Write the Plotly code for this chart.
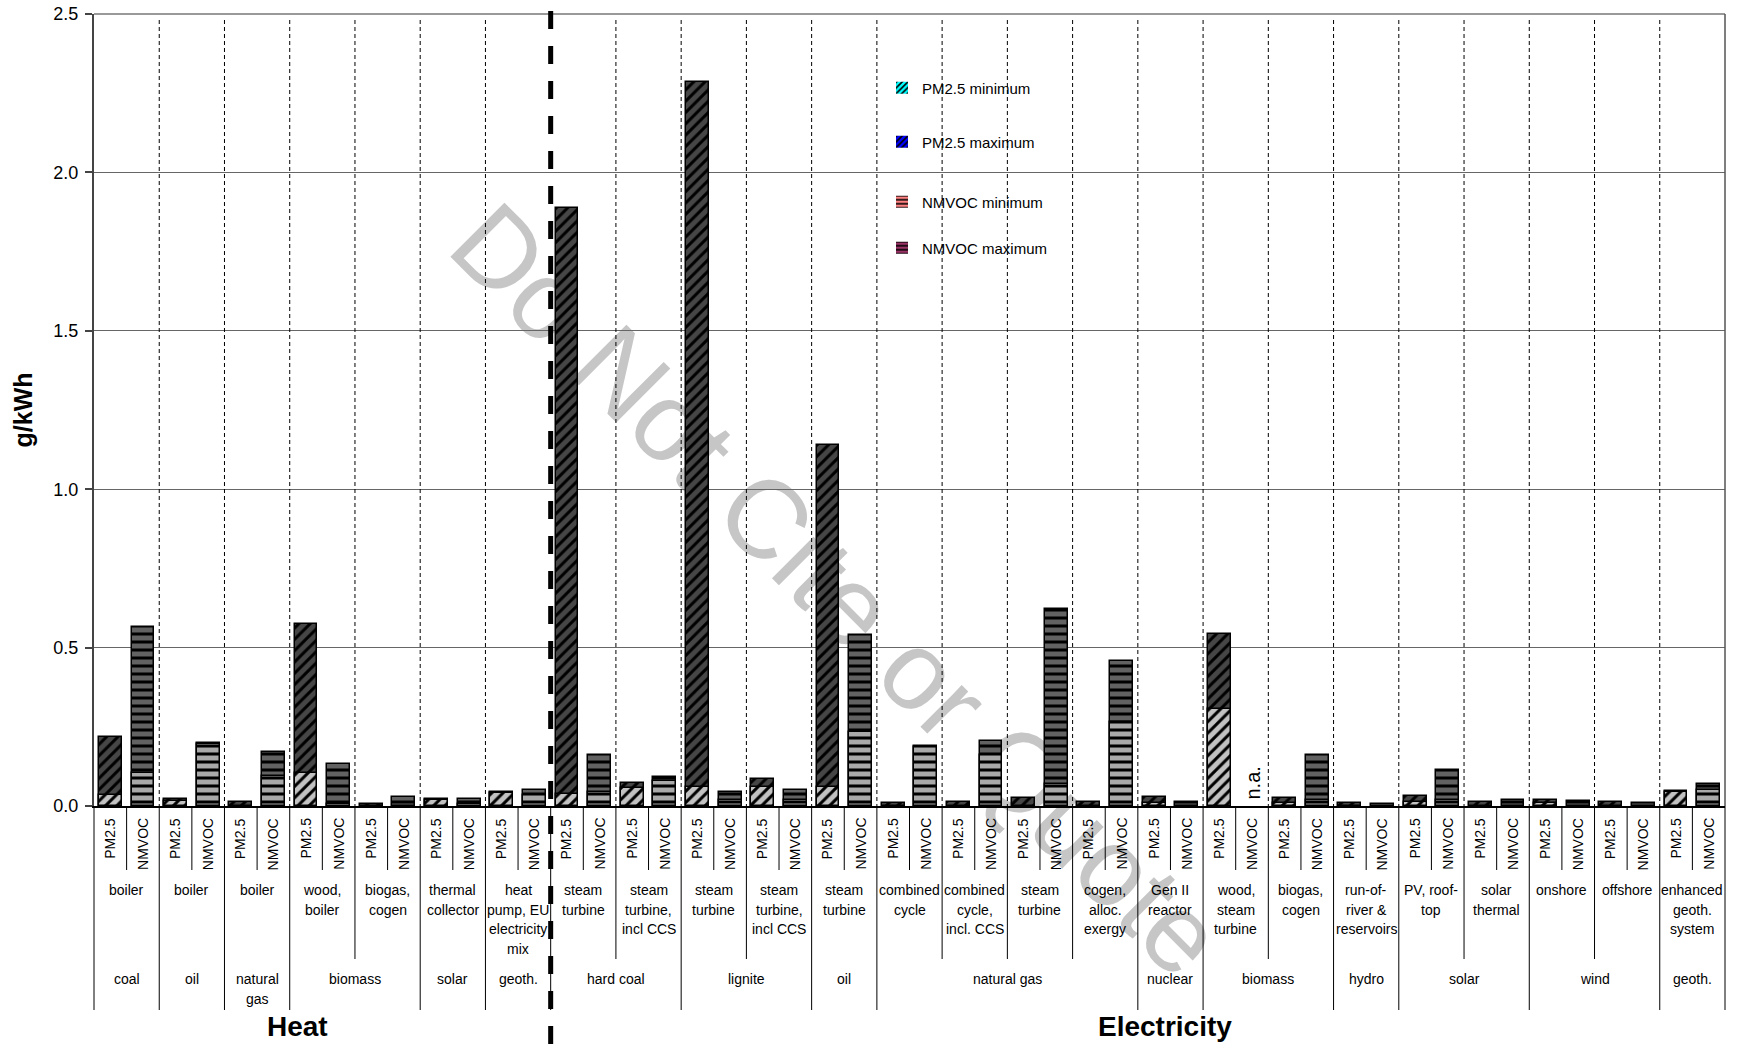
import plotly.graph_objects as go

# ---- data -----------------------------------------------------------------
sectors = ["Heat"] * 7 + ["Electricity"] * 18
fuels = [
    "coal", "oil", "natural<br>gas", "biomass", "biomass", "solar", "geoth.",
    "hard coal", "hard coal", "lignite", "lignite", "oil",
    "natural gas", "natural gas", "natural gas", "natural gas",
    "nuclear", "biomass", "biomass", "hydro", "solar", "solar",
    "wind", "wind", "geoth.",
]
techs = [
    "boiler", "boiler", "boiler", "wood,<br>boiler", "biogas,<br>cogen",
    "thermal<br>collector", "heat<br>pump, EU<br>electricity<br>mix",
    "steam<br>turbine", "steam<br>turbine,<br>incl CCS",
    "steam<br>turbine", "steam<br>turbine,<br>incl CCS",
    "steam<br>turbine",
    "combined<br>cycle", "combined<br>cycle,<br>incl. CCS", "steam<br>turbine",
    "cogen,<br>alloc.<br>exergy",
    "Gen II<br>reactor", "wood,<br>steam<br>turbine", "biogas,<br>cogen",
    "run-of-<br>river &<br>reservoirs", "PV, roof-<br>top", "solar<br>thermal",
    "onshore", "offshore", "enhanced<br>geoth.<br>system",
]
pollutants = ["PM2.5", "NMVOC"]

# g/kWh, one value per technology
pm25_min = [0.035, 0.016, None, 0.103, None, 0.018, 0.042,
            0.038, 0.056, 0.059, 0.061, 0.061,
            None, None, None, None,
            0.010, 0.305, 0.008, None, 0.012, None,
            0.008, None, 0.045]
pm25_max = [0.219, 0.023, 0.012, 0.573, 0.007, 0.022, 0.044,
            1.887, 0.072, 2.286, 0.084, 1.141,
            0.010, 0.014, 0.024, 0.014,
            0.027, 0.543, 0.026, 0.008, 0.032, 0.012,
            0.019, 0.014, 0.048]
nmvoc_min = [0.105, 0.195, 0.095, 0.006, None, 0.006, 0.035,
             0.045, 0.080, 0.020, 0.020, 0.235,
             0.185, 0.160, 0.070, 0.266,
             None, None, 0.020, None, 0.020, None,
             None, None, 0.050]
nmvoc_max = [0.564, 0.200, 0.169, 0.132, 0.030, 0.022, 0.050,
             0.161, 0.093, 0.045, 0.050, 0.539,
             0.189, 0.206, 0.623, 0.459,
             0.012, None, 0.160, 0.005, 0.114, 0.019,
             0.015, 0.010, 0.068]

legend_names = ["PM2.5 minimum", "PM2.5 maximum", "NMVOC minimum", "NMVOC maximum"]

# ---- geometry helpers -----------------------------------------------------
W, H = 1737, 1053
PL, PR, PT, PB = 94, 1725, 14, 806
N = 2 * len(techs)
FONT = "Liberation Sans, Arial, sans-serif"


def xp(px):
    return (px - PL) / (PR - PL)


def yp(py):
    return (PB - py) / (PB - PT)


def edge(i):
    return i / N


def center(i):
    return (i + 0.5) / N


pm_x = [2 * g for g in range(len(techs))]
nm_x = [2 * g + 1 for g in range(len(techs))]

fig = go.Figure()


def bar(x, y, bg, shape):
    return go.Bar(
        x=x, y=y, width=0.7, showlegend=False, hoverinfo="skip",
        marker=dict(
            color=bg,
            line=dict(color="black", width=1.5),
            pattern=dict(shape=shape, bgcolor=bg, fgcolor="black",
                         size=8, solidity=0.38),
        ),
    )


fig.add_trace(bar(pm_x, pm25_max, "#464646", "/"))
fig.add_trace(bar(pm_x, pm25_min, "#c2c2c2", "/"))
fig.add_trace(bar(nm_x, nmvoc_max, "#626262", "-"))
fig.add_trace(bar(nm_x, nmvoc_min, "#a9a9a9", "-"))

# legend swatches, each in its own legend box
legend_style = [("#00ffff", "/"), ("#0000ff", "/"), ("#ff8080", "-"), ("#993366", "-")]
legend_rows = [88, 142, 202, 248]
legend_ids = ["legend", "legend2", "legend3", "legend4"]
for name, (col, shp), lid in zip(legend_names, legend_style, legend_ids):
    fig.add_trace(go.Bar(
        x=[None], y=[None], name=name, legend=lid,
        marker=dict(color=col, line=dict(width=0),
                    pattern=dict(shape=shp, bgcolor=col, fgcolor="black",
                                 size=5, solidity=0.4)),
    ))

shapes = []
annotations = []

# watermark behind everything
shapes.append(dict(
    type="rect", xref="paper", yref="paper", layer="below",
    x0=xp(795), x1=xp(895), y0=yp(632), y1=yp(532),
    line=dict(width=0), fillcolor="rgba(0,0,0,0)",
    label=dict(text="Do Not Cite or Quote", textangle=45,
               textposition="middle center",
               font=dict(family=FONT, size=111, color="#c6c6c6")),
))

# top and right frame
shapes.append(dict(type="line", xref="paper", yref="paper", x0=0, x1=1, y0=1, y1=1,
                   line=dict(color="#999999", width=2)))
shapes.append(dict(type="line", xref="paper", yref="paper", x0=1, x1=1, y0=1, y1=0,
                   line=dict(color="#555555", width=1.5)))

# dashed separators between technologies inside the plot
for i in range(2, N, 2):
    if i == 14:
        continue
    shapes.append(dict(type="line", xref="paper", yref="paper",
                       x0=edge(i), x1=edge(i), y0=yp(20), y1=0,
                       line=dict(color="black", width=1, dash="4px,3px")))

# heat / electricity divider
shapes.append(dict(type="line", xref="paper", yref="paper",
                   x0=edge(14), x1=edge(14), y0=yp(11), y1=yp(1053),
                   line=dict(color="black", width=5, dash="18px,17px")))

# category table below the axis
fuel_bounds = {0, N}
for g in range(1, len(techs)):
    if (sectors[g], fuels[g]) != (sectors[g - 1], fuels[g - 1]):
        fuel_bounds.add(2 * g)
for i in range(0, N + 1):
    if i in fuel_bounds:
        bottom = 1010
    elif i % 2 == 0:
        bottom = 959
    else:
        bottom = 870
    shapes.append(dict(type="line", xref="paper", yref="paper",
                       x0=edge(i), x1=edge(i), y0=0, y1=yp(bottom),
                       line=dict(color="black", width=1)))

# pollutant labels
for g in range(len(techs)):
    for k, p in enumerate(pollutants):
        annotations.append(dict(
            xref="paper", yref="paper", x=center(2 * g + k), y=yp(816),
            text=p, textangle=-90, showarrow=False,
            xanchor="center", yanchor="top",
            font=dict(family=FONT, size=14, color="black"),
        ))

# technology labels
for g, t in enumerate(techs):
    for j, line in enumerate(t.split("<br>")):
        annotations.append(dict(
            xref="paper", yref="paper", x=edge(2 * g + 1), y=yp(890 + 19.5 * j),
            text=line, showarrow=False, xanchor="center", yanchor="middle",
            font=dict(family=FONT, size=14, color="black"),
        ))

# fuel labels
start = 0
for g in range(1, len(techs) + 1):
    if g == len(techs) or (sectors[g], fuels[g]) != (sectors[start], fuels[start]):
        mid = (edge(2 * start) + edge(2 * g)) / 2
        for j, line in enumerate(fuels[start].split("<br>")):
            annotations.append(dict(
                xref="paper", yref="paper", x=mid, y=yp(979 + 20 * j),
                text=line, showarrow=False, xanchor="center", yanchor="middle",
                font=dict(family=FONT, size=14, color="black"),
            ))
        start = g

# sector titles
for name, cx in (("Heat", 297), ("Electricity", 1165)):
    annotations.append(dict(
        xref="paper", yref="paper", x=xp(cx), y=yp(1026), text=name,
        showarrow=False, xanchor="center", yanchor="middle",
        font=dict(family=FONT, size=28, color="black", weight="bold"),
    ))

# missing value marker
for g, v in enumerate(nmvoc_max):
    if v is None:
        annotations.append(dict(
            xref="paper", yref="paper", x=center(2 * g + 1), y=yp(802),
            text="n.a.", textangle=-90, showarrow=False,
            xanchor="center", yanchor="bottom",
            font=dict(family=FONT, size=20, color="black"),
        ))

legend_common = dict(
    xanchor="left", yanchor="middle", bgcolor="rgba(0,0,0,0)",
    font=dict(family=FONT, size=15, color="black"),
)
legend_layout = {}
for lid, row in zip(legend_ids, legend_rows):
    legend_layout[lid] = dict(x=xp(882), y=yp(row), **legend_common)

fig.update_layout(
    template="none",
    width=W, height=H,
    margin=dict(l=PL, r=W - PR, t=PT, b=H - PB, autoexpand=False),
    paper_bgcolor="white",
    plot_bgcolor="rgba(0,0,0,0)",
    barmode="overlay",
    bargap=0,
    font=dict(family=FONT, color="black"),
    xaxis=dict(range=[-0.5, N - 0.5], showgrid=False, zeroline=False,
               showticklabels=False, ticks="", showline=True,
               linecolor="black", linewidth=1.5, fixedrange=True),
    yaxis=dict(range=[0, 2.5], tickvals=[0, 0.5, 1.0, 1.5, 2.0, 2.5],
               tickformat=".1f", showgrid=True, gridcolor="#666666", gridwidth=1,
               zeroline=False, showline=True, linecolor="#444444", linewidth=2,
               ticks="outside", ticklen=7, tickwidth=1.5, tickcolor="#444444",
               ticklabelstandoff=3,
               tickfont=dict(family=FONT, size=18, color="black"),
               title=dict(text="g/kWh", standoff=14,
                          font=dict(family=FONT, size=25, color="black", weight="bold"))),
    shapes=shapes,
    annotations=annotations,
    **legend_layout,
)

fig.write_html("out.html")
